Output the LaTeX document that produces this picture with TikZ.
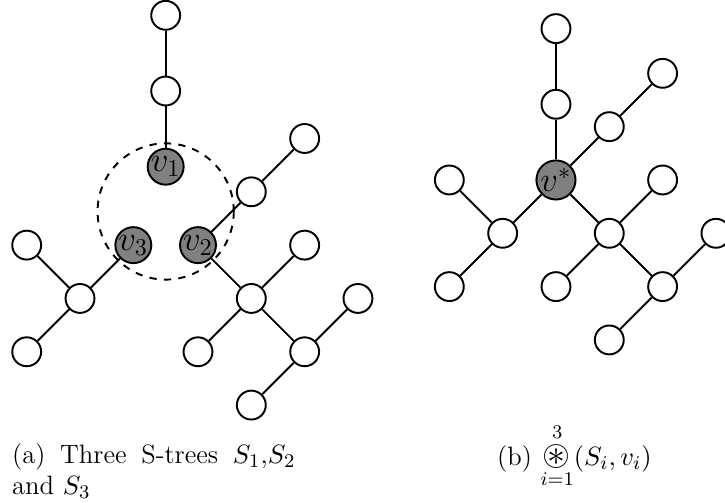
\documentclass[tikz,border=0pt]{standalone}
\usepackage{amsmath}
\usepackage{amssymb}
\usepackage{graphicx}
\usepackage{tikz}
\usetikzlibrary{positioning}

\begin{document}
\begin{tikzpicture}[
		on grid,
		vtx/.style={
			circle,
			draw,
			thick,
			fill=white,
			minimum size=0.42cm,
			inner sep=0pt
		},
		hub/.style={
			vtx,
			fill=gray,
			font=\Large
		},
		link/.style={thick},
		caption/.style={
			inner sep=0pt,
			font=\fontsize{11}{12.8}\selectfont
		}
		]
		
		\useasboundingbox (0,0) rectangle (10.538,-7.297);
		
		%--------------------------------------------------
		% (a) three S-trees
		%--------------------------------------------------
		
		\node (zone) [circle,draw,thick,dashed,minimum size=1.98cm] at (2.408,-3.074) {};
		
		\node (v1) [hub] at (2.408,-2.423) {$v_1$};
		\node (a1) [vtx,above=1.1cm of v1] {};
		\node (a2) [vtx,above=1.1cm of a1] {};
		
		\node (v3) [hub,below left=1.14cm and 0.47cm of v1] {$v_3$};
		\node (l0) [vtx,below left=0.775cm and 0.775cm of v3] {};
		\node (l1) [vtx,above left=0.775cm and 0.775cm of l0] {};
		\node (l2) [vtx,below left=0.775cm and 0.775cm of l0] {};
		
		\node (v2) [hub,below right=1.14cm and 0.47cm of v1] {$v_2$};
		\node (r1) [vtx,above right=0.775cm and 0.775cm of v2] {};
		\node (r2) [vtx,above right=0.775cm and 0.775cm of r1] {};
		\node (r3) [vtx,below right=0.775cm and 0.775cm of v2] {};
		\node (r4) [vtx,above right=0.775cm and 0.775cm of r3] {};
		\node (r5) [vtx,below left=0.775cm and 0.775cm of r3] {};
		\node (r6) [vtx,below right=0.775cm and 0.775cm of r3] {};
		\node (r7) [vtx,above right=0.775cm and 0.775cm of r6] {};
		\node (r8) [vtx,below left=0.775cm and 0.775cm of r6] {};
		
		\draw[link] (v1) -- (a1) -- (a2);
		\draw[link] (v3) -- (l0) -- (l1);
		\draw[link] (l0) -- (l2);
		\draw[link] (v2) -- (r1) -- (r2);
		\draw[link] (v2) -- (r3) -- (r4);
		\draw[link] (r3) -- (r5);
		\draw[link] (r3) -- (r6) -- (r7);
		\draw[link] (r6) -- (r8);
		
		%--------------------------------------------------
		% (b) merged tree
		%--------------------------------------------------
		
		\node (vs) [hub] at (8.081,-2.616) {$v^*$};
		\node (b1) [vtx,above=1.1cm of vs] {};
		\node (b2) [vtx,above=1.1cm of b1] {};
		\node (c1) [vtx,above right=0.775cm and 0.775cm of vs] {};
		\node (c2) [vtx,above right=0.775cm and 0.775cm of c1] {};
		\node (d0) [vtx,below left=0.775cm and 0.775cm of vs] {};
		\node (d1) [vtx,above left=0.775cm and 0.775cm of d0] {};
		\node (d2) [vtx,below left=0.775cm and 0.775cm of d0] {};
		\node (e0) [vtx,below right=0.775cm and 0.775cm of vs] {};
		\node (e1) [vtx,above right=0.775cm and 0.775cm of e0] {};
		\node (e2) [vtx,below left=0.775cm and 0.775cm of e0] {};
		\node (e3) [vtx,below right=0.775cm and 0.775cm of e0] {};
		\node (e4) [vtx,above right=0.775cm and 0.775cm of e3] {};
		\node (e5) [vtx,below left=0.775cm and 0.775cm of e3] {};
		
		\draw[link] (vs) -- (b1) -- (b2);
		\draw[link] (vs) -- (c1) -- (c2);
		\draw[link] (vs) -- (d0) -- (d1);
		\draw[link] (d0) -- (d2);
		\draw[link] (vs) -- (e0) -- (e1);
		\draw[link] (e0) -- (e2);
		\draw[link] (e0) -- (e3) -- (e4);
		\draw[link] (e3) -- (e5);
		
		%--------------------------------------------------
		% Captions
		%--------------------------------------------------
		
		\node (capa) [caption,anchor=north west,text width=4.12cm,align=justify]
		at (0.17,-6.44) {(a) Three S-trees $S_1$,$S_2$\linebreak and $S_3$};
		
		\node (capb) [caption,anchor=base west] at (7.22,-6.76)
		{(b) $\displaystyle\mathop{\scalebox{1.35}{$\circledast$}}_{i=1}^{3}(S_i,v_i)$};
		
	\end{tikzpicture}
\end{document}
